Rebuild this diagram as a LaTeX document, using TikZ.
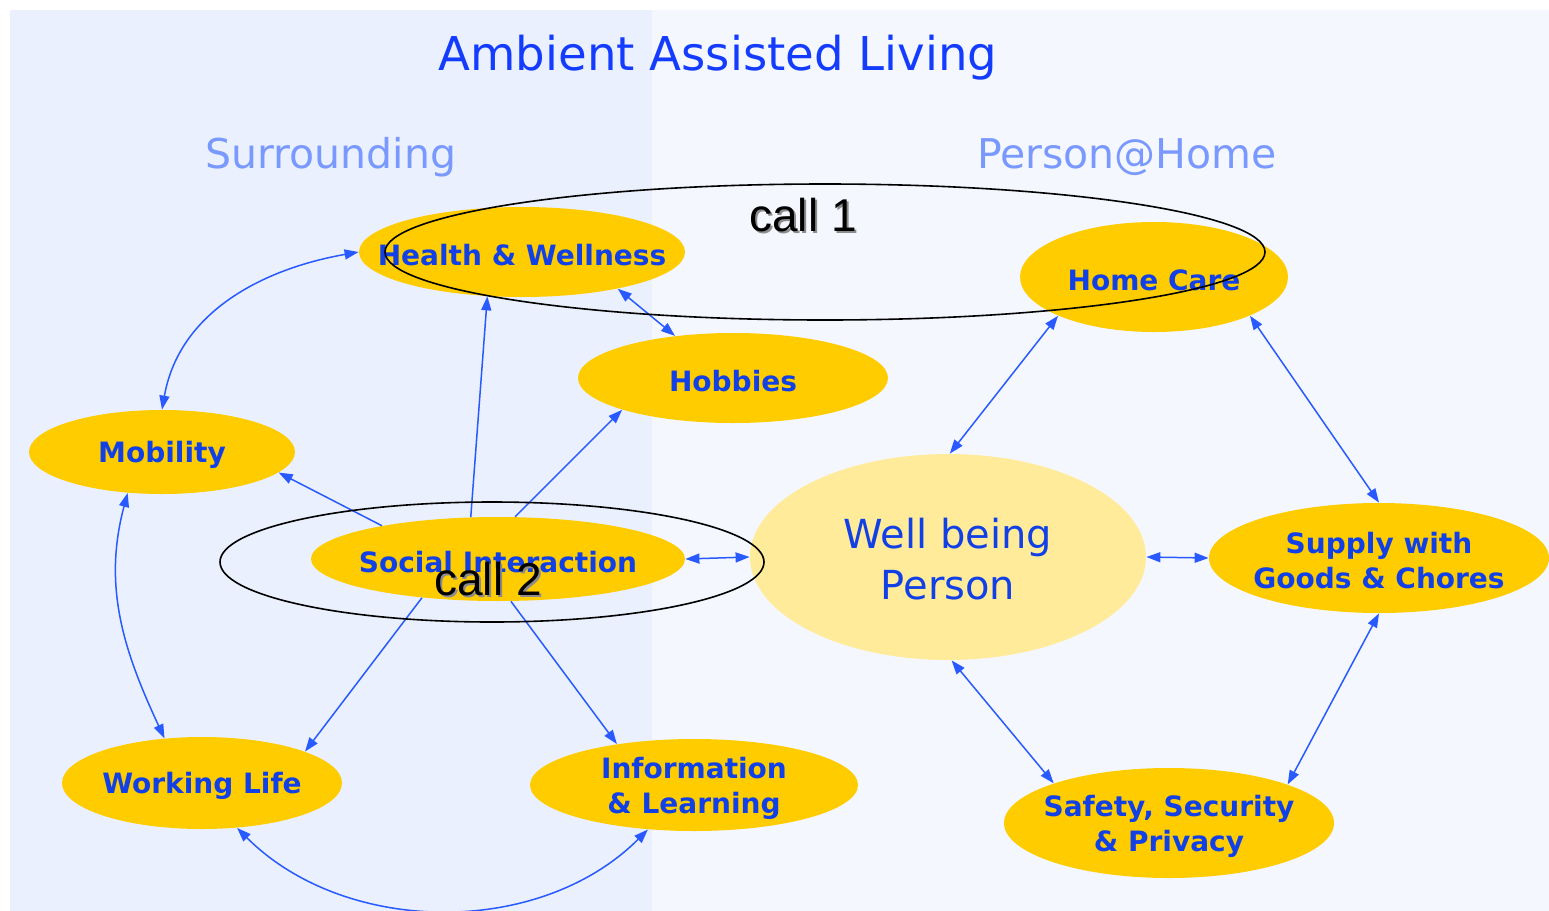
\documentclass[tikz,border=0pt]{standalone}
\usepackage{fontspec}
\setmainfont{DejaVu Sans}
\newfontfamily\callfont{Liberation Sans}
\usetikzlibrary{arrows.meta,shapes.geometric}
\definecolor{bgL}{RGB}{234,240,253}
\definecolor{bgR}{RGB}{244,247,254}
\definecolor{nodeY}{RGB}{255,204,0}
\definecolor{wbY}{RGB}{255,235,153}
\definecolor{txtB}{RGB}{16,64,230}
\definecolor{titleB}{RGB}{20,60,255}
\definecolor{subB}{RGB}{122,153,255}
\definecolor{lineB}{RGB}{40,90,255}
\begin{document}
\begin{tikzpicture}[x=0.5pt,y=-0.5pt,
  ell/.style={ellipse, fill=nodeY, inner sep=0pt},
  lbl/.style={text=txtB, font=\bfseries\fontsize{14}{17.5}\selectfont, align=center, inner sep=0pt, yshift=-1.5pt},
  con/.style={draw=lineB, line width=0.75pt, -{Triangle[length=7pt,width=5pt]}},
  bicon/.style={draw=lineB, line width=0.75pt, {Triangle[length=7pt,width=5pt]}-{Triangle[length=7pt,width=5pt]}},
  callell/.style={ellipse, draw=black, line width=0.8pt, inner sep=0pt},
  calltxt/.style={font=\callfont\fontsize{23}{23}\selectfont, inner sep=0pt, anchor=base}]
\useasboundingbox (0,0) rectangle (1549,911);
\fill[white] (0,0) rectangle (1549,911);
\fill[bgL] (10,10) rectangle (652,911);
\fill[bgR] (652,10) rectangle (1549,911);
% titles
\node[text=titleB, font=\fontsize{23.3}{28}\selectfont, anchor=base, inner sep=0pt] (title) at (718,70) {Ambient Assisted Living};
\node[text=subB, font=\fontsize{20.5}{24}\selectfont, anchor=base, inner sep=0pt] (surr) at (331,168) {Surrounding};
\node[text=subB, font=\fontsize{20.5}{24}\selectfont, anchor=base, inner sep=0pt] (pah) at (1127,168) {Person@Home};
% nodes
\node[ell, minimum width=163pt, minimum height=45pt] (hw) at (522,252) {};
\node[lbl] (hwt) at (hw) {Health \& Wellness};
\node[ell, minimum width=155pt, minimum height=45pt] (hob) at (733,378) {};
\node[lbl] (hobt) at (hob) {Hobbies};
\node[ell, minimum width=133pt, minimum height=42pt] (mob) at (162,452) {};
\node[lbl] (mobt) at (mob) {Mobility};
\node[ell, minimum width=187pt, minimum height=42pt] (soc) at (498,559) {};
\node[lbl] (soct) at (soc) {Social Interaction};
\node[ell, minimum width=140pt, minimum height=46pt] (wl) at (202,783) {};
\node[lbl] (wlt) at (wl) {Working Life};
\node[ell, minimum width=164pt, minimum height=46pt] (inf) at (694,785) {};
\node[lbl] (inft) at (inf) {Information\\\& Learning};
\node[ell, minimum width=134pt, minimum height=55pt] (hc) at (1154,277) {};
\node[lbl] (hct) at (hc) {Home Care};
\node[ell, fill=wbY, minimum width=198pt, minimum height=103pt] (wb) at (948,557) {};
\node[text=txtB, font=\fontsize{20}{25.5}\selectfont, align=center, inner sep=0pt] (wbt) at (948,559) {Well being\\Person};
\node[ell, minimum width=170pt, minimum height=55pt] (sup) at (1379,558) {};
\node[lbl] (supt) at (sup) {Supply with\\Goods \& Chores};
\node[ell, minimum width=165pt, minimum height=55pt] (saf) at (1169,823) {};
\node[lbl] (saft) at (saf) {Safety, Security\\\& Privacy};
% connectors
\draw[con] (soc.123.7) -- (hw.232.4);
\draw[bicon] (hw.-21.6) -- (hob.144.5);
\draw[con] (soc.68) -- (hob.196.6);
\draw[con] (soc.164.2) -- (mob.-10);
\draw[con] (soc.207.1) -- (wl.17);
\draw[con] (soc.-73.7) -- (inf.152.3);
\draw[bicon] (soc.east) -- (wb.west);
\draw[bicon] (hw.west) to[out=190,in=80] (mob.north);
\draw[bicon] (mob.230.6) to[out=255,in=115] (wl.130.9);
\draw[bicon] (wl.-52.3) to[out=-45,in=225,looseness=0.95] (inf.224.3);
\draw[bicon] (hc.202.5) -- (wb.89);
\draw[bicon] (hc.-22.1) -- (sup.north);
\draw[bicon] (wb.east) -- (sup.west);
\draw[bicon] (wb.-88) -- (saf.161);
\draw[bicon] (sup.south) -- (saf.18.6);
% call ellipses
\node[callell, minimum width=440pt, minimum height=68pt] (c1) at (825,252) {};
\node[callell, minimum width=272pt, minimum height=60pt] (c2) at (492,562) {};
\node[calltxt, text=black!45] (c1s) at (805,233) {call 1};
\node[calltxt] (c1t) at (803,231) {call 1};
\node[calltxt, text=black!45] (c2s) at (490,597) {call 2};
\node[calltxt] (c2t) at (488,595) {call 2};
\end{tikzpicture}
\end{document}
